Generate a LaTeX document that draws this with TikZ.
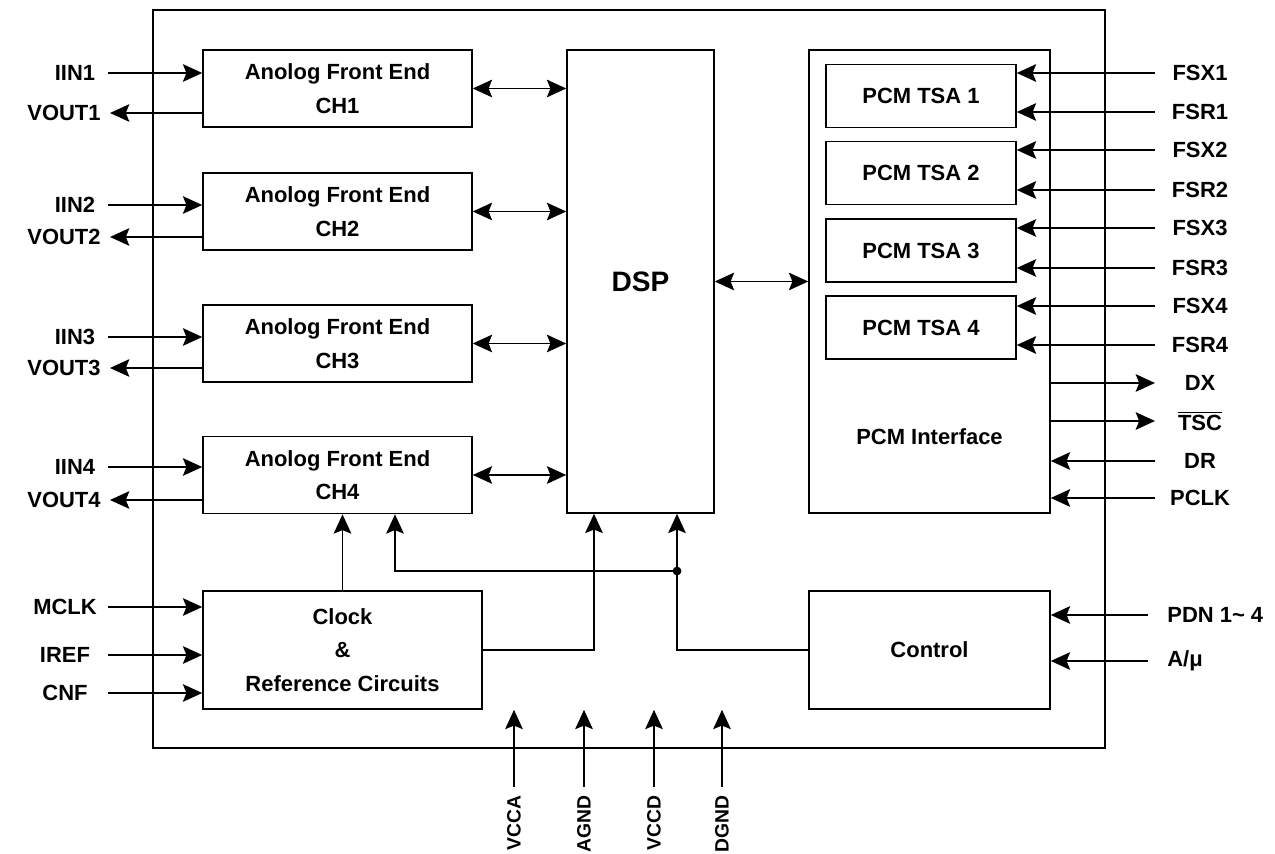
\documentclass[tikz,border=0pt]{standalone}
\usepackage{fontspec}
\setmainfont{Liberation Sans}
\usetikzlibrary{arrows.meta, positioning, calc}
\newcommand{\blkfont}{\fontsize{12.5}{19}\selectfont\bfseries}

\begin{document}
\begin{tikzpicture}[x=0.02cm, y=-0.02cm,
 blk/.style={rectangle,draw,line width=0.9pt,align=center,inner sep=0pt,font=\blkfont},
 lbl/.style={inner sep=0pt,font=\blkfont},
 arrow/.style={>={Stealth[length=11pt,width=10pt,inset=2pt]},->,line width=1pt}]
\useasboundingbox (0,0) rectangle (1275,854);
% chip outline and blocks
\node[blk,minimum width=19.04cm,minimum height=14.76cm] (chip) at (629,379) {};
\foreach \i/\y in {1/88.5,2/211.5,3/343.5,4/475}
 \node[blk,minimum width=5.38cm,minimum height=1.54cm] (afe\i) at (337.5,\y) {Anolog Front End\\CH\i};
\node[blk,minimum width=2.94cm,minimum height=9.26cm,font=\fontsize{16}{19}\selectfont\bfseries] (dsp) at (640.5,281.5) {DSP};
\node[blk,minimum width=4.82cm,minimum height=9.26cm] (pcm) at (929.5,281.5) {};
\node[lbl] (pcmtxt) at (929.5,437) {PCM Interface};
\foreach \n/\y in {1/96,2/173,3/250.5,4/327.5}
 \node[blk,minimum width=3.8cm,minimum height=1.26cm] (tsa\n) at (921,\y) {PCM TSA \n};
\node[blk,minimum width=5.58cm,minimum height=2.36cm] (clk) at (342.5,650) {Clock\\\&\\Reference Circuits};
\node[blk,minimum width=4.82cm,minimum height=2.36cm] (ctl) at (929.5,650) {Control};

% analog channels
\foreach \i/\ya/\yb in {1/73/113,2/205/237,3/337/368,4/467/500}{
 \node[lbl] (iin\i) at (75,\ya) {IIN\i};
 \node[lbl] (vout\i) at (64,\yb) {VOUT\i};
 \coordinate (iinp\i) at (108,\ya);
 \coordinate (voutp\i) at (110,\yb);
 \draw[arrow] (iinp\i) -- (iinp\i -| afe\i.west);
 \draw[arrow] (voutp\i -| afe\i.west) -- (voutp\i);
 \draw[arrow,<->] (afe\i) -- (afe\i -| dsp.west);
}
\draw[arrow,<->] (dsp) -- (pcm);

% frame sync inputs
\foreach \n/\ya/\yb in {1/73/112,2/150/190,3/228/268,4/306/345}{
 \node[lbl] (fsx\n) at (1200,\ya) {FSX\n};
 \node[lbl] (fsr\n) at (1200,\yb) {FSR\n};
 \coordinate (fsxp\n) at (1155,\ya);
 \coordinate (fsrp\n) at (1155,\yb);
 \draw[arrow] (fsxp\n) -- (fsxp\n -| tsa\n.east);
 \draw[arrow] (fsrp\n) -- (fsrp\n -| tsa\n.east);
}

% pcm interface pins
\node[lbl] (dx) at (1200,383) {DX};
\node[lbl] (tsc) at (1200,421) {$\overline{\hbox{TSC}}$};
\node[lbl] (dr) at (1200,461) {DR};
\node[lbl] (pclk) at (1200,498) {PCLK};
\foreach \s/\y in {dx/383,tsc/421,dr/461,pclk/498}
 \coordinate (\s p) at (1155,\y);
\draw[arrow] (dxp -| pcm.east) -- (dxp);
\draw[arrow] (tscp -| pcm.east) -- (tscp);
\draw[arrow] (drp) -- (drp -| pcm.east);
\draw[arrow] (pclkp) -- (pclkp -| pcm.east);

% control pins
\node[lbl,anchor=west] (pdn) at (1167,615) {PDN 1\textasciitilde\ 4};
\node[lbl,anchor=west] (amu) at (1167,661) {A/μ};
\coordinate (pdnp) at (1148,615);
\coordinate (amup) at (1148,661);
\draw[arrow] (pdnp) -- (pdnp -| ctl.east);
\draw[arrow] (amup) -- (amup -| ctl.east);

% clock pins
\foreach \s/\y in {MCLK/607,IREF/655,CNF/693}{
 \node[lbl] (\s) at (65,\y) {\s};
 \coordinate (\s p) at (108,\y);
 \draw[arrow] (\s p) -- (\s p -| clk.west);
}

% supply pins
\foreach \s/\x in {VCCA/514,AGND/584,VCCD/654,DGND/722}{
 \node[lbl,rotate=90,anchor=east,font=\fontsize{11}{13}\selectfont\bfseries] (\s) at (\x,795) {\s};
 \coordinate (\s p) at (\x,787);
 \draw[arrow] (\s p) -- (\s p |- clk.south);
}

% internal wiring
\coordinate (jn) at (677,571);
\coordinate (jl) at (395,571);
\draw[arrow] (clk) -- (clk |- afe4.south);
\draw[arrow] (clk.east) -| ($(dsp.south)+(-46.5,0)$);
\draw[arrow] (ctl.west) -| (jn |- dsp.south);
\draw[arrow] (jn) -- (jl) -- (jl |- afe4.south);
\fill (jn) circle (2.5pt);
\end{tikzpicture}
\end{document}
